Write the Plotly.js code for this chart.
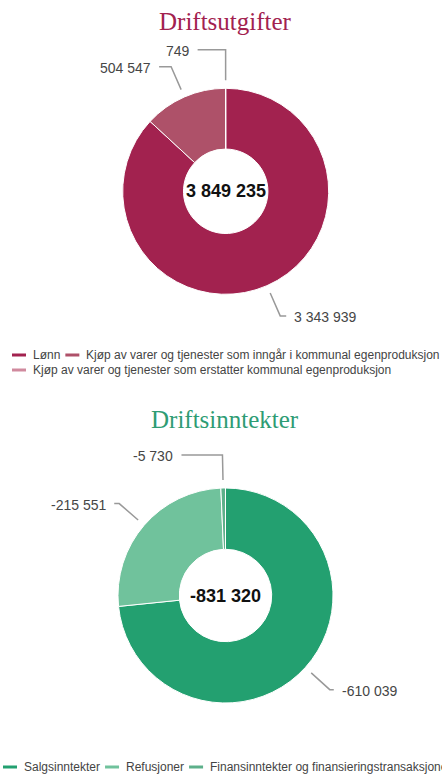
<!DOCTYPE html>
<html>
<head>
<meta charset="utf-8">
<script src="https://cdn.plot.ly/plotly-3.0.1.min.js"></script>
<style>
html,body{margin:0;padding:0;background:#fff;overflow:hidden}
#chart{width:442px;height:776px}
</style>
</head>
<body>
<div id="chart"></div>
<script>
// ---------- DATA ----------
const utgiftTitle = 'Driftsutgifter';
const utgiftLabels = [
  'Lønn',
  'Kjøp av varer og tjenester som inngår i kommunal egenproduksjon',
  'Kjøp av varer og tjenester som erstatter kommunal egenproduksjon'
];
const utgiftValues = [3343939, 504547, 749];

const inntektTitle = 'Driftsinntekter';
const inntektLabels = [
  'Salgsinntekter',
  'Refusjoner',
  'Finansinntekter og finansieringstransaksjoner'
];
const inntektValues = [-610039, -215551, -5730];

// ---------- STYLE / LAYOUT ----------
const W = 442, H = 776;
const LABEL_FONT = 'Liberation Sans, Arial, sans-serif';
const TITLE_FONT = 'Liberation Serif, Times New Roman, serif';

const charts = [
  {
    title: utgiftTitle, labels: utgiftLabels, values: utgiftValues,
    colors: ['#A2224F', '#AE5169', '#D08A9E'],
    titleColor: '#A2224F', titleY: 21.5,
    cx: 225.7, cy: 191.3, R: 103, hole: 0.41,
    len2: [6, 12, 28],
    legendRows: [[0, 1], [2]], legendX0: 12, legendY: [355, 370]
  },
  {
    title: inntektTitle, labels: inntektLabels, values: inntektValues,
    colors: ['#23A070', '#70C29C', '#5DB08A'],
    titleColor: '#2E9C74', titleY: 419,
    cx: 225.5, cy: 595.5, R: 107.5, hole: 0.43,
    len2: [4, 5, 41],
    legendRows: [[0, 1, 2]], legendX0: 3, legendY: [767]
  }
];

const fmt = n => (n < 0 ? '-' : '') + String(Math.abs(n)).replace(/\B(?=(\d{3})+(?!\d))/g, ' ');
const px = x => x / W;
const py = y => 1 - y / H;

const canvas = document.createElement('canvas');
const ctx = canvas.getContext('2d');
ctx.font = "12px 'Liberation Sans'";
const tw = s => ctx.measureText(s).width;

const traces = [];
const annotations = [];
const shapes = [];

charts.forEach(c => {
  const absVals = c.values.map(v => Math.abs(v));
  const total = absVals.reduce((a, b) => a + b, 0);
  const sum = c.values.reduce((a, b) => a + b, 0);

  traces.push({
    type: 'pie',
    labels: c.labels,
    values: absVals,
    sort: false,
    direction: 'clockwise',
    rotation: 0,
    hole: c.hole,
    textinfo: 'none',
    hoverinfo: 'skip',
    showlegend: false,
    marker: { colors: c.colors, line: { color: '#ffffff', width: 1 } },
    domain: { x: [px(c.cx - c.R), px(c.cx + c.R)], y: [py(c.cy + c.R), py(c.cy - c.R)] }
  });

  // title
  annotations.push({
    xref: 'paper', yref: 'paper', x: px(c.cx), y: py(c.titleY),
    xanchor: 'center', yanchor: 'middle', showarrow: false,
    text: c.title, font: { family: TITLE_FONT, size: 25, color: c.titleColor }
  });

  // center total
  annotations.push({
    xref: 'paper', yref: 'paper', x: px(c.cx), y: py(c.cy),
    xanchor: 'center', yanchor: 'middle', showarrow: false,
    text: '<b>' + fmt(sum) + '</b>', font: { family: LABEL_FONT, size: 18, color: '#111' }
  });

  // outside labels with leader lines
  let cum = 0;
  const items = absVals.map((v, i) => {
    const mid = (cum + v / 2) / total * 2 * Math.PI;
    cum += v;
    const dx = Math.sin(mid), dy = -Math.cos(mid);
    const r1 = c.R + 8, r2 = c.R + 33;
    return {
      i, side: dx < 0 ? -1 : 1,
      sx: c.cx + r1 * dx, sy: c.cy + r1 * dy,
      ex: c.cx + r2 * dx, ey: c.cy + r2 * dy
    };
  });
  [-1, 1].forEach(side => {
    const list = items.filter(d => d.side === side).sort((a, b) => a.ey - b.ey);
    for (let k = list.length - 2; k >= 0; k--) {
      if (list[k + 1].ey - list[k].ey < 17) list[k].ey = list[k + 1].ey - 17;
    }
  });
  items.forEach(d => {
    const endX = d.ex + d.side * c.len2[d.i];
    shapes.push({
      type: 'path', xref: 'paper', yref: 'paper',
      path: `M ${px(d.sx)} ${py(d.sy)} L ${px(d.ex)} ${py(d.ey)} L ${px(endX)} ${py(d.ey)}`,
      line: { color: '#999999', width: 1.5 }
    });
    annotations.push({
      xref: 'paper', yref: 'paper', x: px(endX + d.side * 6), y: py(d.ey + 1),
      xanchor: d.side < 0 ? 'right' : 'left', yanchor: 'middle', showarrow: false,
      text: fmt(c.values[d.i]), font: { family: LABEL_FONT, size: 14, color: '#464646' }
    });
  });

  // legend
  c.legendRows.forEach((row, ri) => {
    let x = c.legendX0;
    const y = c.legendY[ri];
    row.forEach(i => {
      shapes.push({
        type: 'line', xref: 'paper', yref: 'paper',
        x0: px(x), x1: px(x + 14), y0: py(y), y1: py(y),
        line: { color: c.colors[i], width: 3 }
      });
      x += 14 + 6;
      annotations.push({
        xref: 'paper', yref: 'paper', x: px(x - 1), y: py(y),
        xanchor: 'left', yanchor: 'middle', showarrow: false,
        text: c.labels[i], font: { family: LABEL_FONT, size: 12, color: '#444444' }
      });
      x += tw(c.labels[i]) + 6;
    });
  });
});

const layout = {
  width: W, height: H,
  margin: { l: 0, r: 0, t: 0, b: 0 },
  paper_bgcolor: '#ffffff', plot_bgcolor: '#ffffff',
  showlegend: false,
  annotations: annotations,
  shapes: shapes
};

Plotly.newPlot('chart', traces, layout, { displayModeBar: false, staticPlot: true });
</script>
</body>
</html>
